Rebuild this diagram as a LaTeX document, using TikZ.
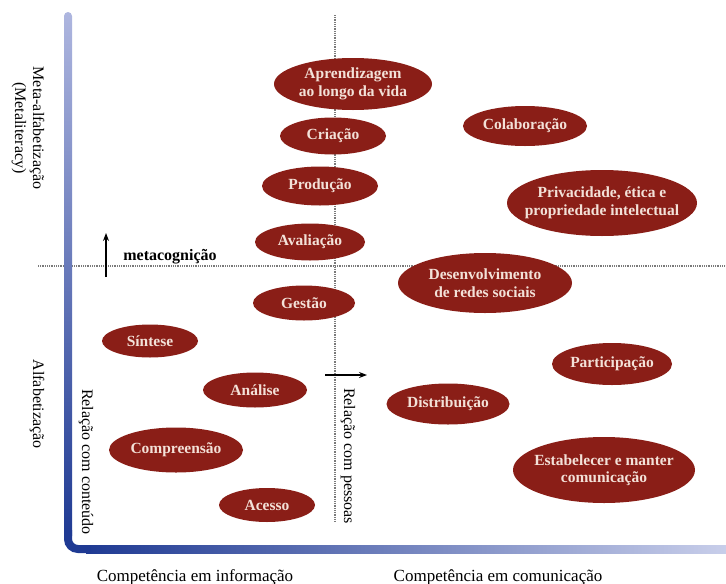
\documentclass[tikz,border=0pt]{standalone}
\usepackage{fontspec}
\setmainfont{Liberation Serif}
\usetikzlibrary{shapes.geometric,arrows.meta}
\definecolor{axdark}{HTML}{1F3A93}
\definecolor{axmid}{HTML}{4A5BB0}
\definecolor{axlight}{HTML}{AEB6DF}
\definecolor{axright}{HTML}{C8CEEA}
\definecolor{blob}{HTML}{8A1E17}
\definecolor{blobtext}{HTML}{F3E1D8}
\definecolor{dotgray}{HTML}{7A7A7A}
\tikzset{
  topic/.style={ellipse, fill=blob, inner sep=0pt},
  topictext/.style={text=blobtext, inner sep=0pt, align=center,
    font=\fontsize{15.5}{17.5}\selectfont\bfseries},
  guide/.style={dotgray, line width=1.1pt, dash pattern=on 1pt off 0.8pt},
  axislabel/.style={font=\fontsize{16}{18}\selectfont, align=center},
  pointer/.style={line width=1.2pt, -{Stealth[length=8pt,width=6pt]}}
}
% \topicnode{name}{x,y}{width}{height}{text}: filled ellipse of fixed size with its label
\newcommand{\topicnode}[5]{%
  \node[topic, minimum width=#3pt, minimum height=#4pt] (#1) at (#2) {};
  \node[topictext] (#1-label) at (#1.center) {#5};
}
\begin{document}
\begin{tikzpicture}[x=1pt,y=-1pt]
\useasboundingbox (0,0) rectangle (726,584);

% dotted quadrant guides
\draw[guide] (38,266) -- (726,266);
\draw[guide] (335,15) -- (335,522);

% gradient axes
\shade[top color=axlight, middle color=axmid, bottom color=axdark, rounded corners=4pt]
  (64,540) rectangle (72,12);
\shade[left color=axdark, middle color=axdark!85!white, right color=axright]
  (86,545) rectangle (726,553);
\draw[axdark, line width=8pt, rounded corners=10pt] (68,530) -- (68,549) -- (90,549);

% axis and quadrant labels
\node[axislabel, rotate=-90] (meta) at (28,128) {Meta-alfabetização\\(Metaliteracy)};
\node[axislabel, rotate=-90] (alfa) at (37,404) {Alfabetização};
\node[axislabel, rotate=-90] (conteudo) at (86,462) {Relação com conteúdo};
\node[axislabel, rotate=-90] (pessoas) at (348,456) {Relação com pessoas};
\node[font=\fontsize{16}{18}\selectfont\bfseries] (metacog) at (170,257) {metacognição};
\node[font=\fontsize{17}{19}\selectfont, anchor=base] (info) at (195,581) {Competência em informação};
\node[font=\fontsize{17}{19}\selectfont, anchor=base] (comun) at (498,581) {Competência em comunicação};

% direction arrows
\coordinate (upfrom) at (106,277);
\coordinate (upto) at (106,233);
\draw[pointer] (upfrom) -- (upto);
\coordinate (rtfrom) at (325,375);
\coordinate (rtto) at (367,375);
\draw[pointer] (rtfrom) -- (rtto);

% competences
\topicnode{aprend}{353,84}{158}{52}{Aprendizagem\\ao longo da vida}
\topicnode{criacao}{333,136}{106}{37}{Criação}
\topicnode{colab}{525,126}{124}{40}{Colaboração}
\topicnode{producao}{320,186}{116}{39}{Produção}
\topicnode{privac}{602,203}{190}{66}{Privacidade, ética e\\propriedade intelectual}
\topicnode{avaliacao}{310,242}{110}{37}{Avaliação}
\topicnode{redes}{485,283}{174}{60}{Desenvolvimento\\de redes sociais}
\topicnode{gestao}{304,303}{102}{35}{Gestão}
\topicnode{sintese}{150,341}{96}{33}{Síntese}
\topicnode{particip}{612,364}{120}{42}{Participação}
\topicnode{analise}{255,390}{104}{35}{Análise}
\topicnode{distrib}{448,404}{123}{41}{Distribuição}
\topicnode{compre}{176,450}{134}{45}{Compreensão}
\topicnode{estab}{604,470}{182}{66}{Estabelecer e manter\\comunicação}
\topicnode{acesso}{267,505}{96}{34}{Acesso}
\end{tikzpicture}
\end{document}
